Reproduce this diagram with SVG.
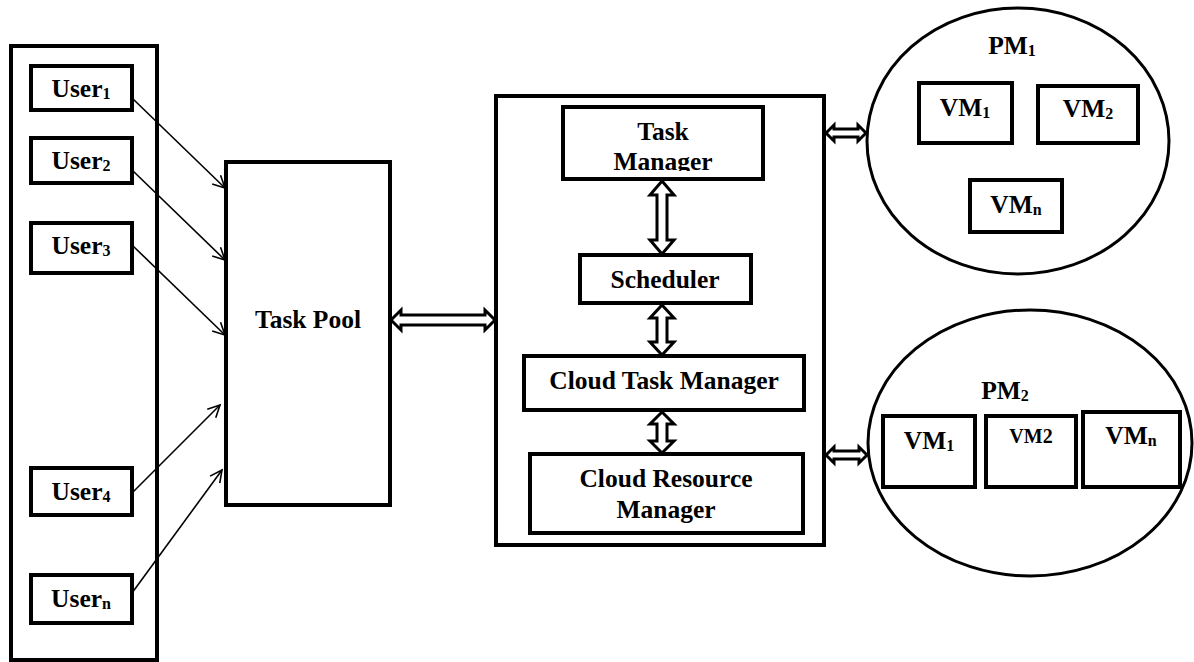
<svg xmlns="http://www.w3.org/2000/svg" width="1194" height="662" viewBox="0 0 1194 662">
<style>
.box{fill:#fff;stroke:#000;stroke-width:4}
.ell{fill:#fff;stroke:#000;stroke-width:3}
.t{font-family:"Liberation Serif","Times New Roman",serif;font-weight:bold;font-size:25.5px;fill:#000;text-anchor:middle}
.sub{font-size:16px}
.line{stroke:#000;stroke-width:1.6;fill:none}
.dbl{fill:#fff;stroke:#000;stroke-width:3;stroke-linejoin:miter}
</style>
<defs>
<marker id="open" markerUnits="userSpaceOnUse" markerWidth="16" markerHeight="16" refX="13" refY="7" orient="auto">
<path d="M1,1 L13,7 L1,13" fill="none" stroke="#000" stroke-width="1.6"/>
</marker>
<clipPath id="tmclip"><rect x="563" y="107" width="200" height="64"/></clipPath>
</defs>
<rect width="1194" height="662" fill="#fff"/>

<g id="users-container"><rect class="box" x="11" y="46" width="146" height="614"/></g>
<g id="user1"><rect class="box" x="31" y="66" width="101" height="44"/><text class="t" x="81" y="97">User<tspan class="sub" dy="2">1</tspan></text></g>
<g id="user2"><rect class="box" x="31" y="138" width="101" height="45"/><text class="t" x="81" y="169">User<tspan class="sub" dy="2">2</tspan></text></g>
<g id="user3"><rect class="box" x="31" y="223" width="101" height="50"/><text class="t" x="81" y="254">User<tspan class="sub" dy="2">3</tspan></text></g>
<g id="user4"><rect class="box" x="31" y="468" width="101" height="47"/><text class="t" x="81" y="500">User<tspan class="sub" dy="2">4</tspan></text></g>
<g id="usern"><rect class="box" x="31" y="575" width="101" height="48"/><text class="t" x="81" y="607">User<tspan class="sub" dy="2">n</tspan></text></g>

<g id="task-pool"><rect class="box" x="226" y="162" width="164" height="343"/><text class="t" x="308" y="328">Task Pool</text></g>

<g id="cloud-system"><rect class="box" x="496" y="96" width="328" height="449"/></g>
<g id="task-manager"><rect class="box" x="563" y="107" width="200" height="72"/><g clip-path="url(#tmclip)"><text class="t" x="663" y="140">Task</text><text class="t" x="663" y="170">Manager</text></g></g>
<g id="scheduler"><rect class="box" x="580" y="255" width="171" height="48"/><text class="t" x="665" y="288">Scheduler</text></g>
<g id="cloud-task-manager"><rect class="box" x="524" y="356" width="280" height="54"/><text class="t" x="664" y="389">Cloud Task Manager</text></g>
<g id="cloud-resource-manager"><rect class="box" x="530" y="454" width="273" height="79"/><text class="t" x="666" y="487">Cloud Resource</text><text class="t" x="666" y="518">Manager</text></g>

<g id="pm1"><ellipse class="ell" cx="1018" cy="141" rx="151" ry="133"/><text class="t" x="1012" y="54">PM<tspan class="sub" dy="2">1</tspan></text></g>
<g id="pm1-vm1"><rect class="box" x="919" y="83" width="93" height="60"/><text class="t" x="965" y="116">VM<tspan class="sub" dy="2">1</tspan></text></g>
<g id="pm1-vm2"><rect class="box" x="1038" y="86" width="100" height="57"/><text class="t" x="1088" y="117">VM<tspan class="sub" dy="2">2</tspan></text></g>
<g id="pm1-vmn"><rect class="box" x="970" y="180" width="92" height="52"/><text class="t" x="1016" y="213">VM<tspan class="sub" dy="2">n</tspan></text></g>

<g id="pm2"><ellipse class="ell" cx="1030" cy="443" rx="162" ry="133"/><text class="t" x="1005" y="399">PM<tspan class="sub" dy="2">2</tspan></text></g>
<g id="pm2-vm1"><rect class="box" x="883" y="416" width="92" height="71"/><text class="t" x="929" y="449">VM<tspan class="sub" dy="2">1</tspan></text></g>
<g id="pm2-vm2"><rect class="box" x="986" y="416" width="90" height="71"/><text class="t" x="1031" y="443" style="font-size:20px">VM2</text></g>
<g id="pm2-vmn"><rect class="box" x="1083" y="412" width="97" height="75"/><text class="t" x="1131" y="444">VM<tspan class="sub" dy="2">n</tspan></text></g>

<g id="connectors">
<line class="line" x1="132" y1="98" x2="225" y2="188" marker-end="url(#open)"/>
<line class="line" x1="132" y1="170" x2="225" y2="260" marker-end="url(#open)"/>
<line class="line" x1="132" y1="245" x2="225" y2="335" marker-end="url(#open)"/>
<line class="line" x1="132" y1="493" x2="220" y2="405" marker-end="url(#open)"/>
<line class="line" x1="132" y1="593" x2="222" y2="470" marker-end="url(#open)"/>
<polygon class="dbl" points="391,320 401,310 401,315 485,315 485,310 495,320 485,330 485,325 401,325 401,330"/>
<polygon class="dbl" points="826,133 834,125 834,129 858,129 858,125 866,133 858,141 858,137 834,137 834,141"/>
<polygon class="dbl" points="826,455 834,447 834,451 859,451 859,447 867,455 859,463 859,459 834,459 834,463"/>
<polygon class="dbl" points="662,181 674,195 667,195 667,240 674,240 662,254 650,240 657,240 657,195 650,195"/>
<polygon class="dbl" points="662,305 674,318 667,318 667,342 674,342 662,355 650,342 657,342 657,318 650,318"/>
<polygon class="dbl" points="662,412 674,424 667,424 667,441 674,441 662,453 650,441 657,441 657,424 650,424"/>
</g>
</svg>
